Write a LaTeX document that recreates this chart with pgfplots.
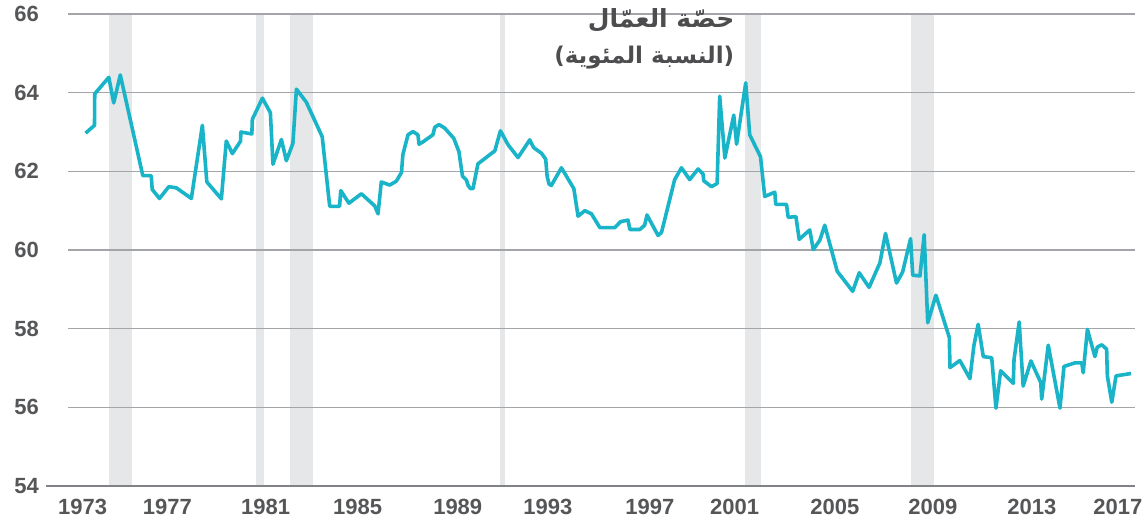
\documentclass[border=0pt]{standalone}
\usepackage{pgfplots}
\pgfplotsset{compat=1.18}
\usepackage{fontspec}
\setmainfont{Liberation Sans}
\newfontfamily\arabicfont[Script=Arabic]{DejaVu Sans}
\TeXXeTstate=1
\definecolor{lineteal}{HTML}{1AB4C8}
\definecolor{bandgray}{HTML}{E6E7E8}
\definecolor{gridgray}{HTML}{A3A5A8}
\definecolor{axisgray}{HTML}{808285}
\definecolor{labelgray}{HTML}{555658}
\definecolor{titlegray}{HTML}{4D4D4F}
\begin{document}
\begin{tikzpicture}
\begin{axis}[
  at={(0,0)}, anchor=south west,
  scale only axis, width=533.5bp, height=236bp,
  xmin=1972.26, xmax=2017.76, ymin=54, ymax=66,
  set layers, clip=false,
  axis line style={draw=none},
  ytick={54,56,58,60,62,64,66},
  ymajorgrids, grid style={color=gridgray, line width=0.75bp},
  xtick={1972.88,1976.5,1980.69,1984.61,1988.88,1992.72,1997.07,2000.69,2004.96,2009.14,2013.36,2017.03},
  xticklabels={1973,1977,1981,1985,1989,1993,1997,2001,2005,2009,2013,2017},
  major tick length=0pt,
  tick label style={font=\fontsize{11bp}{13bp}\selectfont\bfseries, text=labelgray},
  yticklabel style={xshift=-11bp},
  xticklabel style={yshift=-3bp},
  /pgf/number format/assume math mode=true,
  /pgf/number format/1000 sep={},
]
% recession bands
\addplot[draw=none, fill=bandgray, on layer=axis background] coordinates {(1974.00,54) (1974.00,66) (1975.01,66) (1975.01,54)} -- cycle;
\addplot[draw=none, fill=bandgray, on layer=axis background] coordinates {(1980.26,54) (1980.26,66) (1980.60,66) (1980.60,54)} -- cycle;
\addplot[draw=none, fill=bandgray, on layer=axis background] coordinates {(1981.71,54) (1981.71,66) (1982.69,66) (1982.69,54)} -- cycle;
\addplot[draw=none, fill=bandgray, on layer=axis background] coordinates {(1990.70,54) (1990.70,66) (1990.88,66) (1990.88,54)} -- cycle;
\addplot[draw=none, fill=bandgray, on layer=axis background] coordinates {(2001.15,54) (2001.15,66) (2001.83,66) (2001.83,54)} -- cycle;
\addplot[draw=none, fill=bandgray, on layer=axis background] coordinates {(2008.20,54) (2008.20,66) (2009.18,66) (2009.18,54)} -- cycle;
\draw[axisgray, line width=1bp] (axis cs:1971.34,54) -- (axis cs:2017.76,54);
% labour share
\addplot[lineteal, line width=1.8bp, line join=round, mark=none] coordinates {
(1973.01,62.97) (1973.39,63.17) (1973.40,63.97) (1974.00,64.39) (1974.21,63.74)
(1974.49,64.45) (1975.45,61.89) (1975.81,61.89) (1975.85,61.54) (1976.16,61.31)
(1976.56,61.61) (1976.88,61.58) (1977.52,61.31) (1977.99,63.17) (1978.18,61.73)
(1978.80,61.30) (1979.01,62.77) (1979.27,62.45) (1979.62,62.77) (1979.63,63.00)
(1980.10,62.95) (1980.12,63.32) (1980.55,63.86) (1980.89,63.49) (1981.00,62.18)
(1981.36,62.81) (1981.57,62.27) (1981.85,62.71) (1982.00,64.09) (1982.42,63.76)
(1983.10,62.88) (1983.42,61.11) (1983.84,61.11) (1983.89,61.51) (1984.24,61.19)
(1984.77,61.43) (1985.34,61.12) (1985.48,60.92) (1985.62,61.73) (1985.98,61.65)
(1986.26,61.75) (1986.48,61.97) (1986.54,62.43) (1986.76,62.93) (1986.97,63.01)
(1987.18,62.93) (1987.23,62.69) (1987.40,62.75) (1987.82,62.93) (1987.90,63.12)
(1988.08,63.19) (1988.32,63.10) (1988.71,62.84) (1988.93,62.50) (1989.08,61.88)
(1989.25,61.78) (1989.32,61.64) (1989.42,61.56) (1989.53,61.56) (1989.74,62.19)
(1990.46,62.52) (1990.70,63.03) (1991.02,62.68) (1991.45,62.35) (1991.95,62.80)
(1992.12,62.60) (1992.45,62.46) (1992.63,62.31) (1992.69,61.88) (1992.77,61.68)
(1992.87,61.64) (1993.30,62.09) (1993.83,61.56) (1994.01,60.86) (1994.30,61.00)
(1994.58,60.92) (1994.94,60.57) (1995.58,60.57) (1995.82,60.72) (1996.14,60.76)
(1996.22,60.52) (1996.64,60.52) (1996.85,60.63) (1996.95,60.89) (1997.42,60.37)
(1997.57,60.45) (1998.13,61.79) (1998.42,62.09) (1998.77,61.79) (1999.13,62.06)
(1999.34,61.93) (1999.37,61.76) (1999.70,61.61) (1999.94,61.69) (2000.05,63.91)
(2000.27,62.34) (2000.65,63.43) (2000.77,62.69) (2001.16,64.25) (2001.33,62.93)
(2001.79,62.37) (2001.97,61.36) (2002.40,61.47) (2002.44,61.16) (2002.90,61.16)
(2002.97,60.83) (2003.30,60.85) (2003.44,60.27) (2003.89,60.51) (2004.04,60.01)
(2004.32,60.25) (2004.53,60.63) (2005.06,59.46) (2005.72,58.95) (2006.00,59.42)
(2006.42,59.05) (2006.88,59.67) (2007.12,60.42) (2007.59,59.16) (2007.85,59.44)
(2008.19,60.29) (2008.28,59.36) (2008.59,59.34) (2008.77,60.39) (2008.92,58.15)
(2009.27,58.85) (2009.84,57.78) (2009.87,57.01) (2010.29,57.19) (2010.72,56.73)
(2010.89,57.57) (2011.07,58.11) (2011.29,57.29) (2011.65,57.26) (2011.83,55.98)
(2012.03,56.93) (2012.57,56.61) (2012.60,57.21) (2012.82,58.17) (2012.99,56.54)
(2013.32,57.18) (2013.74,56.63) (2013.78,56.21) (2014.06,57.58) (2014.56,55.98)
(2014.73,57.04) (2015.20,57.13) (2015.49,57.13) (2015.55,56.88) (2015.73,57.98)
(2016.05,57.29) (2016.15,57.53) (2016.34,57.59) (2016.55,57.48) (2016.58,56.80)
(2016.77,56.13) (2016.95,56.80) (2017.59,56.86)
};
\node[anchor=east, inner sep=0pt, text=titlegray, font=\arabicfont\bfseries\fontsize{12.5bp}{15bp}\selectfont] at (axis cs:2000.69,65.85) {\beginR حصّة العمّال\endR};
\node[anchor=east, inner sep=0pt, text=titlegray, font=\arabicfont\bfseries\fontsize{11.5bp}{14bp}\selectfont] at (axis cs:2000.69,64.90) {\beginR(النسبة المئوية)\endR};
\end{axis}
\pgfresetboundingbox
\path[use as bounding box] (-34bp,-18bp) rectangle (540bp,243bp);
\end{tikzpicture}
\end{document}
